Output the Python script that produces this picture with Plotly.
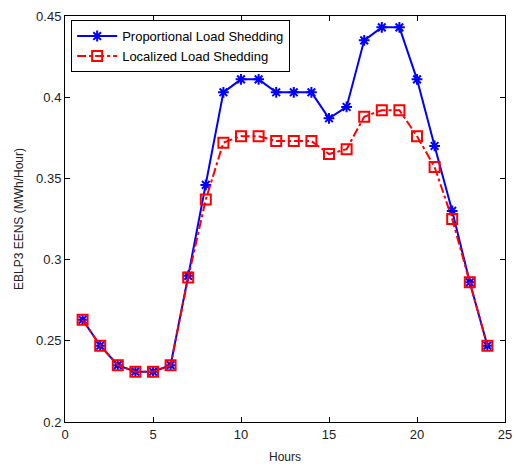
import plotly.graph_objects as go

hours = list(range(1, 25))
proportional = [0.263, 0.247, 0.235, 0.231, 0.231, 0.235, 0.290, 0.346, 0.403, 0.411,
                0.411, 0.403, 0.403, 0.403, 0.387, 0.394, 0.435, 0.443, 0.443, 0.411,
                0.370, 0.330, 0.286, 0.247]
localized = [0.263, 0.247, 0.235, 0.231, 0.231, 0.235, 0.289, 0.337, 0.372, 0.376,
             0.376, 0.373, 0.373, 0.373, 0.365, 0.368, 0.388, 0.392, 0.392, 0.376,
             0.357, 0.325, 0.286, 0.247]
x_ticks = [0, 5, 10, 15, 20, 25]
y_ticks = [0.2, 0.25, 0.3, 0.35, 0.4, 0.45]
y_tick_text = ["0.2", "0.25", "0.3", "0.35", "0.4", "0.45"]

FONT = "Liberation Sans, Arial"

fig = go.Figure()
fig.add_trace(go.Scatter(
    x=hours, y=proportional, name="Proportional Load Shedding",
    mode="lines+markers",
    line=dict(color="#0000ff", width=2),
    marker=dict(symbol="asterisk-open", size=9, color="#0000ff",
                line=dict(color="#0000ff", width=2)),
))
fig.add_trace(go.Scatter(
    x=hours, y=localized, name="Localized Load Shedding",
    mode="lines+markers",
    line=dict(color="#ff0000", width=2, dash="dashdot"),
    marker=dict(symbol="square-open", size=10, color="#ff0000",
                line=dict(color="#ff0000", width=2)),
))

axis_common = dict(
    showgrid=False, zeroline=False, showline=True, linecolor="#000000", linewidth=1,
    mirror="ticks", ticks="inside", ticklen=5, tickcolor="#000000", automargin=False,
    ticklabeloverflow="allow",
    tickfont=dict(family=FONT, size=13, color="#222222"),
)
fig.update_xaxes(range=[0, 25], tickvals=x_ticks, **axis_common,
                 title=dict(text="Hours", font=dict(family=FONT, size=12, color="#222222"),
                            standoff=13))
fig.update_yaxes(range=[0.2, 0.45], tickvals=y_ticks, ticktext=y_tick_text, **axis_common,
                 title=dict(text="EBLP3 EENS (MWh/Hour)",
                            font=dict(family=FONT, size=12, color="#222222"),
                            standoff=9))

fig.update_layout(
    width=514, height=464,
    margin=dict(l=65, r=9, t=16, b=42),
    paper_bgcolor="white", plot_bgcolor="white",
    legend=dict(x=0.014, y=0.99, xanchor="left", yanchor="top",
                bgcolor="white", bordercolor="#000000", borderwidth=1,
                font=dict(family=FONT, size=13, color="#000000"),
                itemwidth=40, tracegroupgap=0),
    showlegend=True,
)

fig.write_html("out.html", config={"displayModeBar": False},
               post_script="document.body.style.margin='0';document.body.style.overflow='hidden';")
